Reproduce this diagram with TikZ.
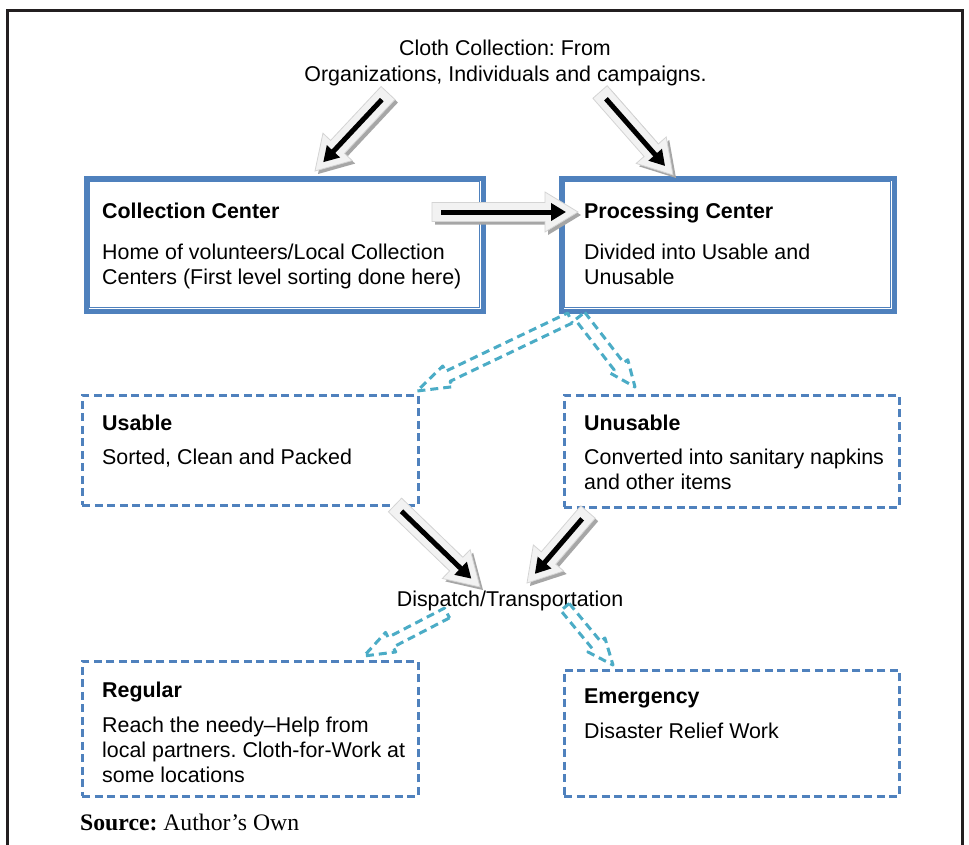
\documentclass[tikz,border=0pt]{standalone}
\usepackage{fontspec}
\setmainfont{Liberation Sans}
\newfontfamily\seriffont{Liberation Serif}
\usetikzlibrary{calc,arrows.meta}
\frenchspacing

\definecolor{boxblue}{HTML}{4F81BD}
\definecolor{flowcyan}{HTML}{4BACC6}
\definecolor{framegray}{HTML}{231F20}
\definecolor{arrfill}{HTML}{F2F2F2}
\definecolor{arredge}{HTML}{D4D4D4}
\definecolor{arrshade}{HTML}{A6A6A6}

% outline of a block arrow: tail, tip, shaft half-width, head half-width, head length
\newcommand\arrowoutline[5]{%
  ($(#1)!#3!90:(#2)$) -- ($(#2)!#5!(#1)!#3!-90:(#1)$) -- ($(#2)!#5!(#1)!#4!-90:(#1)$)
  -- (#2) -- ($(#2)!#5!(#1)!#4!90:(#1)$) -- ($(#2)!#5!(#1)!#3!90:(#1)$)
  -- ($(#1)!#3!-90:(#2)$) -- cycle}

% shadowed light block arrow with a black arrow inside
\newcommand\shadedarrow[2]{%
  \begin{scope}[transform canvas={shift={(3pt,-3pt)}}]
    \fill[arrshade] \arrowoutline{#1}{#2}{9.5pt}{20pt}{33pt};
  \end{scope}
  \filldraw[fill=arrfill,draw=arredge,line width=0.8pt,line join=miter]
    \arrowoutline{#1}{#2}{9.5pt}{20pt}{33pt};
  \draw[blackarrow] ($(#1)!9pt!(#2)$) -- ($(#2)!12pt!(#1)$);
}

% dashed outline arrow: tail, tip, shaft half-width, head half-width, head length
\newcommand\dashedarrow[5]{%
  \draw[flowarrow] \arrowoutline{#1}{#2}{#3}{#4}{#5};
}

\tikzset{
  centerbox/.style={draw=boxblue, line width=5pt, inner sep=0pt, anchor=north west},
  dashbox/.style={draw=boxblue, line width=2.6pt, dash pattern=on 8pt off 4.5pt,
    inner sep=0pt, anchor=north west},
  innerline/.style={draw=boxblue, line width=1.3pt},
  txt/.style={anchor=base west, inner sep=0pt, font=\fontsize{21.4}{25}\selectfont},
  ctxt/.style={anchor=base, inner sep=0pt, font=\fontsize{21.4}{25}\selectfont},
  blackarrow/.style={line width=5pt, -{Triangle[length=15pt,width=17pt]}},
  flowarrow/.style={draw=flowcyan, line width=3pt, dash pattern=on 8pt off 5pt,
    line join=round},
  frame/.style={draw=framegray, line width=3pt},
}

\begin{document}
\begin{tikzpicture}[x=1pt,y=-1pt]
\useasboundingbox (0,0) rectangle (969,844);
\fill[white] (0,0) rectangle (969,844);

% page frame, open at the bottom
\draw[frame] (7.5,850) -- (7.5,10) -- (962,10) -- (962,850);

% heading
\node[ctxt] (head1) at (505,55) {Cloth Collection: From};
\node[ctxt] (head2) at (505.5,81) {Organizations, Individuals and campaigns.};

% collection and processing centers, thick frame with a thin inner line
\node[centerbox, minimum width=397, minimum height=133] (cc) at (83.5,175.5) {};
\draw[innerline] ([shift={(6pt,-6pt)}]cc.north west) rectangle ([shift={(-6pt,6pt)}]cc.south east);
\node[centerbox, minimum width=333, minimum height=133] (pc) at (558.5,175.5) {};
\draw[innerline] ([shift={(6pt,-6pt)}]pc.north west) rectangle ([shift={(-6pt,6pt)}]pc.south east);

\node[txt] (cct) at (102,218) {\bfseries Collection Center};
\node[txt] (cc1) at (102,259) {Home of volunteers/Local Collection};
\node[txt] (cc2) at (102,284) {Centers (First level sorting done here)};

\node[txt] (pct) at (584,218) {\bfseries Processing Center};
\node[txt] (pc1) at (584,259) {Divided into Usable and};
\node[txt] (pc2) at (584,284) {Unusable};

% sorted categories
\node[dashbox, minimum width=336, minimum height=110] (us) at (81,394) {};
\node[txt] (ust) at (102,430) {\bfseries Usable};
\node[txt] (us1) at (102,464) {Sorted, Clean and Packed};

\node[dashbox, minimum width=335, minimum height=112] (un) at (563,394) {};
\node[txt] (unt) at (584,430) {\bfseries Unusable};
\node[txt] (un1) at (584,464) {Converted into sanitary napkins};
\node[txt] (un2) at (584,489) {and other items};

% dispatch
\node[ctxt] (disp) at (510,606) {Dispatch/Transportation};

\node[dashbox, minimum width=336, minimum height=135] (reg) at (81,660) {};
\node[txt] (regt) at (102,697) {\bfseries Regular};
\node[txt] (reg1) at (102,732) {Reach the needy--Help from};
\node[txt] (reg2) at (102,757) {local partners. Cloth-for-Work at};
\node[txt] (reg3) at (102,782) {some locations};

\node[dashbox, minimum width=335, minimum height=126] (em) at (563,669) {};
\node[txt] (emt) at (584,703) {\bfseries Emergency};
\node[txt] (em1) at (584,738) {Disaster Relief Work};

\node[anchor=base west, inner sep=0pt, font=\seriffont\fontsize{23.7}{28}\selectfont]
  (src) at (80,830) {\textbf{Source:} Author’s Own};

% arrow end points
\coordinate (a1s) at (388,93);  \coordinate (a1e) at (315,171);
\coordinate (a2s) at (600,92);  \coordinate (a2e) at (673,175);
\coordinate (a3s) at (432,212); \coordinate (a3e) at (578,212);
\coordinate (a4s) at (395,505); \coordinate (a4e) at (480,587);
\coordinate (a5s) at (588,512); \coordinate (a5e) at (527,583);

\coordinate (d1s) at (570,318); \coordinate (d1e) at (417,391);
\coordinate (d2s) at (580,316); \coordinate (d2e) at (635,387);
\coordinate (d3s) at (447,613); \coordinate (d3e) at (364,656);
\coordinate (d4s) at (565,607); \coordinate (d4e) at (613,665);

\shadedarrow{a1s}{a1e}
\shadedarrow{a2s}{a2e}
\shadedarrow{a3s}{a3e}
\shadedarrow{a4s}{a4e}
\shadedarrow{a5s}{a5e}

\dashedarrow{d1s}{d1e}{5.5pt}{11.5pt}{34pt}
\dashedarrow{d2s}{d2e}{6pt}{11pt}{26pt}
\dashedarrow{d3s}{d3e}{5.5pt}{11pt}{30pt}
\dashedarrow{d4s}{d4e}{5.5pt}{11pt}{26pt}
\end{tikzpicture}
\end{document}
